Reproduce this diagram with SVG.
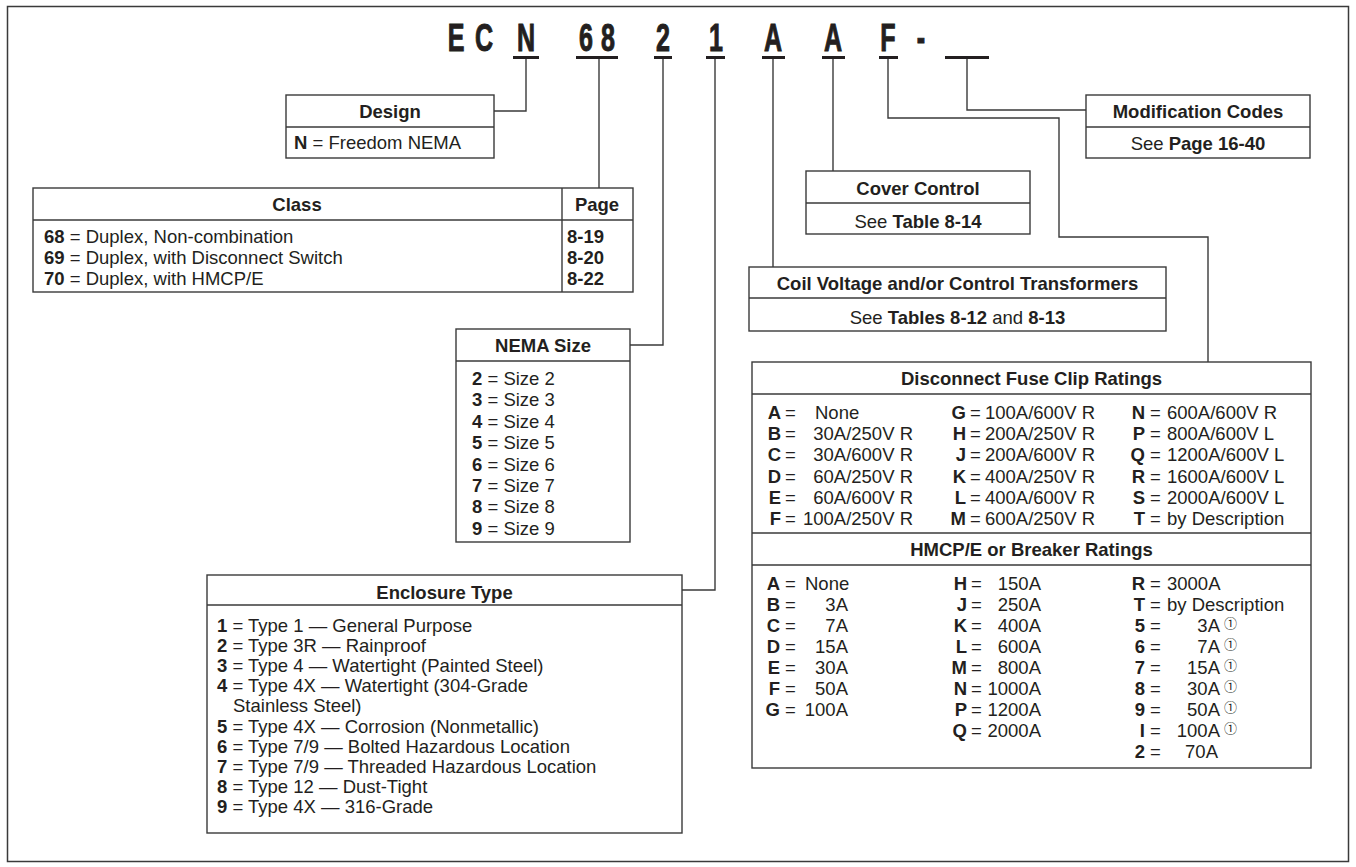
<svg xmlns="http://www.w3.org/2000/svg" width="1356" height="867" viewBox="0 0 1356 867">
<style>
.bx{fill:#fff;stroke:#3a3a3a;stroke-width:1.4}
.ln{fill:none;stroke:#3a3a3a;stroke-width:1.4}
.ul{fill:#231f20}
text{font-family:"Liberation Sans",Arial,Helvetica,sans-serif;font-size:18.5px;fill:#231f20}
.b{font-weight:bold}
.h{font-weight:bold;text-anchor:middle}
.m{text-anchor:middle}
.e{text-anchor:end}
.cd{font-weight:bold;font-size:38px;text-anchor:middle;stroke:#231f20;stroke-width:1}
.c1{font-family:"Noto Sans CJK JP","DejaVu Sans",sans-serif;font-size:13px}
</style>
<rect x="7.5" y="6.5" width="1341" height="855" fill="#fff" stroke="#3a3a3a" stroke-width="1.5"/>

<g id="code">
<text class="cd" transform="translate(456,51) scale(0.66,1)">E</text>
<text class="cd" transform="translate(484,51) scale(0.66,1)">C</text>
<text class="cd" transform="translate(526,51) scale(0.66,1)">N</text>
<text class="cd" transform="translate(586,51) scale(0.66,1)">6</text>
<text class="cd" transform="translate(608,51) scale(0.66,1)">8</text>
<text class="cd" transform="translate(663,51) scale(0.66,1)">2</text>
<text class="cd" transform="translate(716,51) scale(0.66,1)">1</text>
<text class="cd" transform="translate(773,51) scale(0.66,1)">A</text>
<text class="cd" transform="translate(833,51) scale(0.66,1)">A</text>
<text class="cd" transform="translate(888,51) scale(0.66,1)">F</text>
<text class="cd" transform="translate(921,51) scale(0.66,1)">-</text>
<rect class="ul" x="513" y="56" width="26" height="3"/>
<rect class="ul" x="576" y="56" width="42" height="3"/>
<rect class="ul" x="654" y="56" width="18" height="3"/>
<rect class="ul" x="706" y="56" width="19" height="3"/>
<rect class="ul" x="762" y="56" width="23" height="3"/>
<rect class="ul" x="822" y="56" width="23" height="3"/>
<rect class="ul" x="879" y="56" width="19" height="3"/>
<rect class="ul" x="945" y="56" width="44" height="3"/>
</g>

<g id="connectors">
<polyline class="ln" points="526,59 526,111 494,111"/>
<polyline class="ln" points="599,59 599,188"/>
<polyline class="ln" points="663,59 663,345 630,345"/>
<polyline class="ln" points="715,59 715,590 682,590"/>
<polyline class="ln" points="773,59 773,267"/>
<polyline class="ln" points="833,59 833,171"/>
<polyline class="ln" points="888,59 888,118 1059,118 1059,237 1208,237 1208,362"/>
<polyline class="ln" points="967,59 967,110 1086,110"/>
</g>

<g id="design">
<rect class="bx" x="286" y="95" width="208" height="63"/>
<line class="ln" x1="286" y1="127" x2="494" y2="127"/>
<text class="h" x="390" y="118">Design</text>
<text x="294" y="149"><tspan class="b">N</tspan> = Freedom NEMA</text>
</g>

<g id="class">
<rect class="bx" x="33" y="188" width="600" height="104"/>
<line class="ln" x1="33" y1="220" x2="633" y2="220"/>
<line class="ln" x1="562" y1="188" x2="562" y2="292"/>
<text class="h" x="297" y="211">Class</text>
<text class="h" x="597" y="211">Page</text>
<text x="44" y="243"><tspan class="b">68</tspan> = Duplex, Non-combination</text>
<text x="44" y="264"><tspan class="b">69</tspan> = Duplex, with Disconnect Switch</text>
<text x="44" y="285"><tspan class="b">70</tspan> = Duplex, with HMCP/E</text>
<text class="b" x="567" y="243">8-19</text>
<text class="b" x="567" y="264">8-20</text>
<text class="b" x="567" y="285">8-22</text>
</g>

<g id="nema-size">
<rect class="bx" x="456" y="329" width="174" height="213"/>
<line class="ln" x1="456" y1="361" x2="630" y2="361"/>
<text class="h" x="543" y="352">NEMA Size</text>
<text x="472" y="385"><tspan class="b">2</tspan> = Size 2</text>
<text x="472" y="406.4"><tspan class="b">3</tspan> = Size 3</text>
<text x="472" y="427.8"><tspan class="b">4</tspan> = Size 4</text>
<text x="472" y="449.2"><tspan class="b">5</tspan> = Size 5</text>
<text x="472" y="470.6"><tspan class="b">6</tspan> = Size 6</text>
<text x="472" y="492"><tspan class="b">7</tspan> = Size 7</text>
<text x="472" y="513.4"><tspan class="b">8</tspan> = Size 8</text>
<text x="472" y="534.8"><tspan class="b">9</tspan> = Size 9</text>
</g>

<g id="enclosure-type">
<rect class="bx" x="207" y="575" width="475" height="258"/>
<line class="ln" x1="207" y1="605" x2="682" y2="605"/>
<text class="h" x="444.5" y="599">Enclosure Type</text>
<text x="217" y="632"><tspan class="b">1</tspan> = Type 1 — General Purpose</text>
<text x="217" y="652"><tspan class="b">2</tspan> = Type 3R — Rainproof</text>
<text x="217" y="672"><tspan class="b">3</tspan> = Type 4 — Watertight (Painted Steel)</text>
<text x="217" y="692"><tspan class="b">4</tspan> = Type 4X — Watertight (304-Grade</text>
<text x="233" y="712">Stainless Steel)</text>
<text x="217" y="733"><tspan class="b">5</tspan> = Type 4X — Corrosion (Nonmetallic)</text>
<text x="217" y="753"><tspan class="b">6</tspan> = Type 7/9 — Bolted Hazardous Location</text>
<text x="217" y="773"><tspan class="b">7</tspan> = Type 7/9 — Threaded Hazardous Location</text>
<text x="217" y="793"><tspan class="b">8</tspan> = Type 12 — Dust-Tight</text>
<text x="217" y="813"><tspan class="b">9</tspan> = Type 4X — 316-Grade</text>
</g>

<g id="cover-control">
<rect class="bx" x="806" y="171" width="224" height="63"/>
<line class="ln" x1="806" y1="203" x2="1030" y2="203"/>
<text class="h" x="918" y="195">Cover Control</text>
<text class="m" x="918" y="228">See <tspan class="b">Table 8-14</tspan></text>
</g>

<g id="coil-voltage">
<rect class="bx" x="749" y="267" width="417" height="64"/>
<line class="ln" x1="749" y1="298" x2="1166" y2="298"/>
<text class="h" x="957.5" y="290">Coil Voltage and/or Control Transformers</text>
<text class="m" x="957.5" y="324">See <tspan class="b">Tables 8-12</tspan> and <tspan class="b">8-13</tspan></text>
</g>

<g id="modification-codes">
<rect class="bx" x="1086" y="95" width="224" height="63"/>
<line class="ln" x1="1086" y1="127" x2="1310" y2="127"/>
<text class="h" x="1198" y="118">Modification Codes</text>
<text class="m" x="1198" y="150">See <tspan class="b">Page 16-40</tspan></text>
</g>

<g id="ratings">
<rect class="bx" x="752" y="362" width="559" height="406"/>
<line class="ln" x1="752" y1="394" x2="1311" y2="394"/>
<line class="ln" x1="752" y1="533" x2="1311" y2="533"/>
<line class="ln" x1="752" y1="565" x2="1311" y2="565"/>
<text class="h" x="1031.5" y="385">Disconnect Fuse Clip Ratings</text>
<text class="h" x="1031.5" y="556">HMCP/E or Breaker Ratings</text>

<text class="b e" x="781" y="419">A</text><text x="785" y="419">=</text><text x="815" y="419">None</text>
<text class="b e" x="781" y="440">B</text><text x="785" y="440">=</text><text class="e" x="913" y="440">30A/250V R</text>
<text class="b e" x="781" y="461">C</text><text x="785" y="461">=</text><text class="e" x="913" y="461">30A/600V R</text>
<text class="b e" x="781" y="483">D</text><text x="785" y="483">=</text><text class="e" x="913" y="483">60A/250V R</text>
<text class="b e" x="781" y="504">E</text><text x="785" y="504">=</text><text class="e" x="913" y="504">60A/600V R</text>
<text class="b e" x="781" y="525">F</text><text x="785" y="525">=</text><text class="e" x="913" y="525">100A/250V R</text>

<text class="b e" x="966" y="419">G</text><text x="970" y="419">=</text><text class="e" x="1095" y="419">100A/600V R</text>
<text class="b e" x="966" y="440">H</text><text x="970" y="440">=</text><text class="e" x="1095" y="440">200A/250V R</text>
<text class="b e" x="966" y="461">J</text><text x="970" y="461">=</text><text class="e" x="1095" y="461">200A/600V R</text>
<text class="b e" x="966" y="483">K</text><text x="970" y="483">=</text><text class="e" x="1095" y="483">400A/250V R</text>
<text class="b e" x="966" y="504">L</text><text x="970" y="504">=</text><text class="e" x="1095" y="504">400A/600V R</text>
<text class="b e" x="966" y="525">M</text><text x="970" y="525">=</text><text class="e" x="1095" y="525">600A/250V R</text>

<text class="b e" x="1145" y="419">N</text><text x="1150" y="419">=</text><text x="1167" y="419">600A/600V R</text>
<text class="b e" x="1145" y="440">P</text><text x="1150" y="440">=</text><text x="1167" y="440">800A/600V L</text>
<text class="b e" x="1145" y="461">Q</text><text x="1150" y="461">=</text><text x="1167" y="461">1200A/600V L</text>
<text class="b e" x="1145" y="483">R</text><text x="1150" y="483">=</text><text x="1167" y="483">1600A/600V L</text>
<text class="b e" x="1145" y="504">S</text><text x="1150" y="504">=</text><text x="1167" y="504">2000A/600V L</text>
<text class="b e" x="1145" y="525">T</text><text x="1150" y="525">=</text><text x="1167" y="525">by Description</text>

<text class="b e" x="780" y="590">A</text><text x="785" y="590">=</text><text x="805" y="590">None</text>
<text class="b e" x="780" y="611">B</text><text x="785" y="611">=</text><text class="e" x="848" y="611">3A</text>
<text class="b e" x="780" y="632">C</text><text x="785" y="632">=</text><text class="e" x="848" y="632">7A</text>
<text class="b e" x="780" y="653">D</text><text x="785" y="653">=</text><text class="e" x="848" y="653">15A</text>
<text class="b e" x="780" y="674">E</text><text x="785" y="674">=</text><text class="e" x="848" y="674">30A</text>
<text class="b e" x="780" y="695">F</text><text x="785" y="695">=</text><text class="e" x="848" y="695">50A</text>
<text class="b e" x="780" y="716">G</text><text x="785" y="716">=</text><text class="e" x="848" y="716">100A</text>

<text class="b e" x="967" y="590">H</text><text x="971" y="590">=</text><text class="e" x="1041" y="590">150A</text>
<text class="b e" x="967" y="611">J</text><text x="971" y="611">=</text><text class="e" x="1041" y="611">250A</text>
<text class="b e" x="967" y="632">K</text><text x="971" y="632">=</text><text class="e" x="1041" y="632">400A</text>
<text class="b e" x="967" y="653">L</text><text x="971" y="653">=</text><text class="e" x="1041" y="653">600A</text>
<text class="b e" x="967" y="674">M</text><text x="971" y="674">=</text><text class="e" x="1041" y="674">800A</text>
<text class="b e" x="967" y="695">N</text><text x="971" y="695">=</text><text class="e" x="1041" y="695">1000A</text>
<text class="b e" x="967" y="716">P</text><text x="971" y="716">=</text><text class="e" x="1041" y="716">1200A</text>
<text class="b e" x="967" y="737">Q</text><text x="971" y="737">=</text><text class="e" x="1041" y="737">2000A</text>

<text class="b e" x="1145" y="590">R</text><text x="1150" y="590">=</text><text x="1167" y="590">3000A</text>
<text class="b e" x="1145" y="611">T</text><text x="1150" y="611">=</text><text x="1167" y="611">by Description</text>
<text class="b e" x="1145" y="632">5</text><text x="1150" y="632">=</text><text class="e" x="1220" y="632">3A</text><text class="c1" x="1224" y="628">①</text>
<text class="b e" x="1145" y="653">6</text><text x="1150" y="653">=</text><text class="e" x="1220" y="653">7A</text><text class="c1" x="1224" y="649">①</text>
<text class="b e" x="1145" y="674">7</text><text x="1150" y="674">=</text><text class="e" x="1220" y="674">15A</text><text class="c1" x="1224" y="670">①</text>
<text class="b e" x="1145" y="695">8</text><text x="1150" y="695">=</text><text class="e" x="1220" y="695">30A</text><text class="c1" x="1224" y="691">①</text>
<text class="b e" x="1145" y="716">9</text><text x="1150" y="716">=</text><text class="e" x="1220" y="716">50A</text><text class="c1" x="1224" y="712">①</text>
<text class="b e" x="1145" y="737">I</text><text x="1150" y="737">=</text><text class="e" x="1220" y="737">100A</text><text class="c1" x="1224" y="733">①</text>
<text class="b e" x="1145" y="758">2</text><text x="1150" y="758">=</text><text class="e" x="1218" y="758">70A</text>
</g>
</svg>
